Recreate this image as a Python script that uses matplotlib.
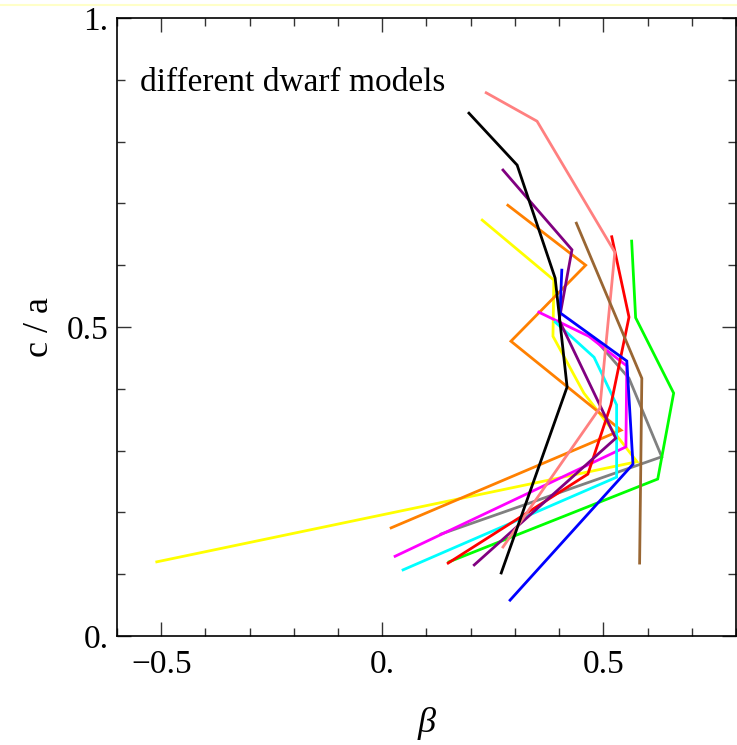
import matplotlib
matplotlib.use('Agg')
from matplotlib import pyplot as plt
from matplotlib.lines import Line2D
from matplotlib.ticker import MultipleLocator, FixedLocator

# beta / (c/a) tracks for each dwarf model
yellow_beta = [0.226, 0.388, 0.386, 0.456, 0.576, -0.510]
yellow_ca = [0.673, 0.576, 0.485, 0.393, 0.282, 0.120]

orange_beta = [0.284, 0.460, 0.291, 0.540, 0.020]
orange_ca = [0.697, 0.600, 0.477, 0.333, 0.175]

black_beta = [0.196, 0.305, 0.391, 0.418, 0.269]
black_ca = [0.846, 0.762, 0.579, 0.403, 0.102]

purple_beta = [0.273, 0.429, 0.400, 0.528, 0.208]
purple_ca = [0.754, 0.625, 0.511, 0.320, 0.115]

blue_beta = [0.406, 0.402, 0.553, 0.567, 0.289]
blue_ca = [0.592, 0.523, 0.445, 0.278, 0.058]

magenta_beta = [0.354, 0.467, 0.553, 0.551, 0.029]
magenta_ca = [0.524, 0.485, 0.437, 0.306, 0.129]

cyan_beta = [0.391, 0.479, 0.530, 0.530, 0.047]
cyan_ca = [0.508, 0.451, 0.374, 0.257, 0.107]

gray_beta = [0.479, 0.558, 0.632, 0.133]
gray_ca = [0.482, 0.417, 0.290, 0.165]

red_beta = [0.519, 0.558, 0.517, 0.465, 0.149]
red_ca = [0.646, 0.516, 0.374, 0.262, 0.118]

green_beta = [0.564, 0.573, 0.659, 0.623, 0.151]
green_ca = [0.639, 0.515, 0.393, 0.254, 0.120]

brown_beta = [0.439, 0.587, 0.582]
brown_ca = [0.668, 0.417, 0.118]

pink_beta = [0.235, 0.350, 0.526, 0.492, 0.273]
pink_ca = [0.879, 0.833, 0.621, 0.369, 0.144]

models = [
    (yellow_beta, yellow_ca, '#ffff00'),
    (orange_beta, orange_ca, '#ff8000'),
    (gray_beta, gray_ca, '#808080'),
    (magenta_beta, magenta_ca, '#ff00ff'),
    (cyan_beta, cyan_ca, '#00ffff'),
    (green_beta, green_ca, '#00ff00'),
    (red_beta, red_ca, '#ff0000'),
    (purple_beta, purple_ca, '#800080'),
    (pink_beta, pink_ca, '#ff8080'),
    (brown_beta, brown_ca, '#996633'),
    (blue_beta, blue_ca, '#0000ff'),
    (black_beta, black_ca, '#000000'),
]

plt.rcParams['font.family'] = ['Liberation Serif', 'DejaVu Serif']

fig = plt.figure(figsize=(7.37, 7.45), dpi=100)
ax = fig.add_axes([117 / 737, 1 - 636 / 745, 619 / 737, 618 / 745])

for beta, ca, col in models:
    ax.plot(beta, ca, color=col, lw=2.0, solid_joinstyle='miter')

ax.set_xlim(-0.6, 0.8)
ax.set_ylim(0, 1)

ax.xaxis.set_major_locator(FixedLocator([-0.5, 0.0, 0.5]))
ax.xaxis.set_minor_locator(MultipleLocator(0.1))
ax.yaxis.set_major_locator(FixedLocator([0.0, 0.5, 1.0]))
ax.yaxis.set_minor_locator(MultipleLocator(0.1))
ax.set_xticklabels(['\u22120.5', '0.', '0.5'])
ax.set_yticklabels(['0.', '0.5', '1.'])

ax.tick_params(which='both', direction='in', top=True, right=True, width=1, color='#333333')
ax.tick_params(which='major', length=10, labelsize=24, pad=10)
ax.tick_params(axis='y', which='major', pad=6)
ax.tick_params(which='minor', length=6)
for s in ax.spines.values():
    s.set_linewidth(1.2)

ax.set_xlabel('\u03b2', fontsize=26, style='italic', labelpad=19)
ax.set_ylabel('c / a', fontsize=26, labelpad=8)

ax.text(0.037, 0.896, 'different dwarf models', transform=ax.transAxes,
        fontsize=24, va='center', ha='left')

# faint yellow line along the top of the image
fig.add_artist(Line2D([0, 1], [1 - 5 / 745, 1 - 5 / 745], transform=fig.transFigure,
                      color='#ffffc8', lw=1.5))

fig.savefig('out.png', dpi=100)
